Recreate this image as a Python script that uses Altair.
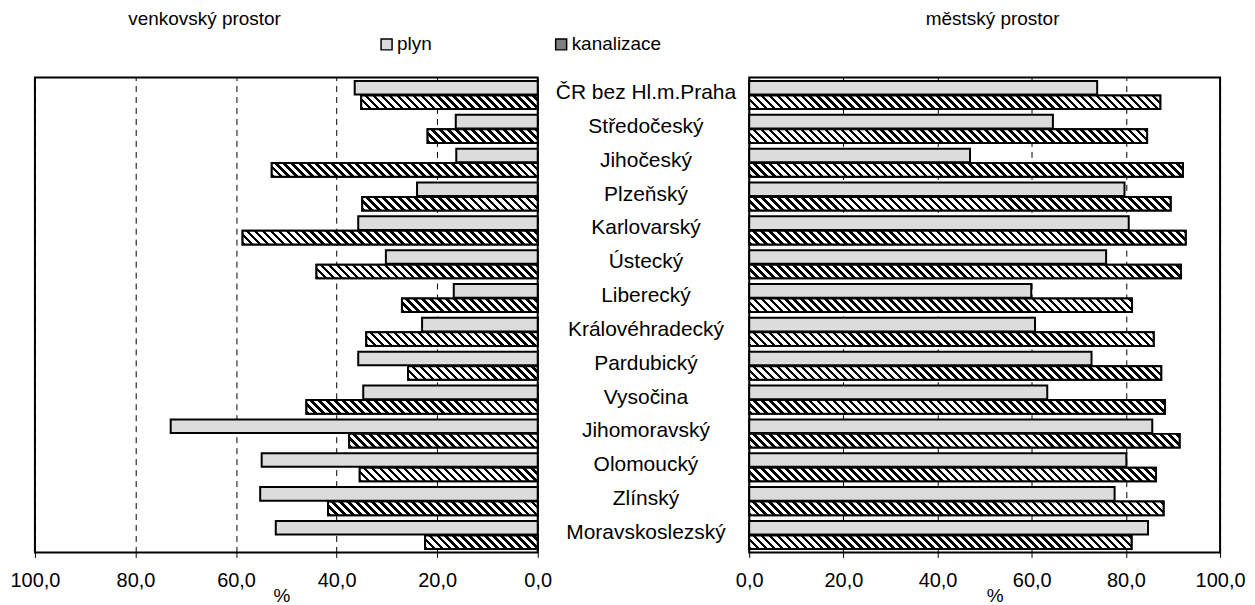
import math
import altair as alt

# ---------------- data ----------------
categories = [
    "ČR bez Hl.m.Praha", "Středočeský", "Jihočeský", "Plzeňský", "Karlovarský",
    "Ústecký", "Liberecký", "Královéhradecký", "Pardubický", "Vysočina",
    "Jihomoravský", "Olomoucký", "Zlínský", "Moravskoslezský",
]
series = ["plyn", "kanalizace"]

plyn_venkov = [36.4, 16.3, 16.2, 24.0, 35.7, 30.2, 16.7, 23.0, 35.7, 34.7, 73.0, 54.9, 55.2, 52.1]
kanal_venkov = [35.1, 21.9, 52.9, 34.9, 58.7, 44.0, 27.0, 34.1, 25.8, 46.0, 37.5, 35.4, 41.7, 22.4]
plyn_mesto = [73.9, 64.5, 46.9, 79.7, 80.6, 75.8, 59.9, 60.7, 72.7, 63.3, 85.6, 80.1, 77.6, 84.7]
kanal_mesto = [87.3, 84.5, 92.1, 89.5, 92.7, 91.7, 81.3, 85.9, 87.5, 88.3, 91.4, 86.4, 88.0, 81.2]

tick_values = [0, 20, 40, 60, 80, 100]

# ---------------- layout / style ----------------
FONT = "Liberation Sans"
FS = 19          # titles, legend, axis title
FS_TICK = 20     # tick labels
FS_CAT = 21      # category labels
LEFT_W = 504
RIGHT_W = 472
PLOT_H = 476
GAP = 212
PAD_IN = 0.17
PAD_OUT = 0.1
SUB_PAD = 0.06
LIGHT = "#dcdcdc"
MID = "#7f7f7f"

step = PLOT_H / (len(categories) - PAD_IN + 2 * PAD_OUT)
BAR_H = step * (1 - PAD_IN) / (2 - SUB_PAD) * (1 - SUB_PAD)


def hatch(width_px, height_px, period=8.0, black=0.45):
    """Diagonal '\\' hatch as a linear gradient in bounding-box units."""
    W = max(width_px, 1.0)
    H = height_px
    r = H / W
    k = (1 + r) / (1 + r * r)
    span = W + H
    stops = []
    n = int(math.ceil(span / period)) + 1
    for i in range(n):
        a = i * period / span
        b = (i + black) * period / span
        c = (i + 1) * period / span
        if a >= 1:
            break
        stops.append({"offset": round(a, 5), "color": "#000000"})
        stops.append({"offset": round(min(b, 1), 5), "color": "#000000"})
        if b < 1:
            stops.append({"offset": round(b, 5), "color": "#ffffff"})
            stops.append({"offset": round(min(c, 1), 5), "color": "#ffffff"})
    return {"gradient": "linear", "x1": 0, "y1": 1, "x2": round(k, 5),
            "y2": round(1 - k * r, 5), "stops": stops}


def table(plyn, kanal, px_per_unit):
    out = []
    for c, p, k in zip(categories, plyn, kanal):
        out.append({"kraj": c, "rada": "plyn", "hodnota": p})
        out.append({"kraj": c, "rada": "kanalizace", "hodnota": k,
                    "vzor": hatch(k * px_per_unit, BAR_H)})
    return out


label_expr = "replace(format(datum.value, '.1f'), '.', ',')"


def panel(values, reverse, width, title_text, title_dx, title_x, y_axis, legend):
    data = alt.Data(values=values)
    x_axis = alt.Axis(
        values=tick_values, labelExpr=label_expr, grid=True, gridDash=[6, 5],
        gridColor="black", gridWidth=1, tickColor="black", tickSize=5, tickWidth=1,
        domain=False, labelFontSize=FS_TICK, labelColor="black", labelPadding=13,
        labelFont=FONT, title="%", titleFontSize=FS, titleFont=FONT,
        titleFontWeight="normal", titleColor="black", titlePadding=-4,
        titleX=title_x, labelFlush=False, labelOverlap=False,
    )
    base = alt.Chart(data).encode(
        y=alt.Y("kraj:N", sort=categories,
                scale=alt.Scale(domain=categories, paddingInner=PAD_IN, paddingOuter=PAD_OUT),
                axis=y_axis),
        yOffset=alt.YOffset("rada:N", sort=series,
                            scale=alt.Scale(domain=series, paddingInner=SUB_PAD)),
        x=alt.X("hodnota:Q", scale=alt.Scale(domain=[0, 100], reverse=reverse, nice=False),
                axis=x_axis),
    )
    bars = base.mark_bar(stroke="black", strokeWidth=2).encode(
        fill=alt.Fill("rada:N", sort=series,
                      scale=alt.Scale(domain=series, range=[LIGHT, MID]),
                      legend=legend),
    )
    hatched = base.transform_filter(alt.datum.rada == "kanalizace").mark_bar(
        stroke="black", strokeWidth=2
    ).encode(fill=alt.Fill("vzor:N", scale=None, legend=None))
    return alt.layer(bars, hatched).properties(
        width=width, height=PLOT_H,
        view=alt.ViewBackground(stroke="black", strokeWidth=2, fill="white"),
        title=alt.Title(title_text, fontSize=FS, font=FONT, fontWeight="normal",
                        color="black", anchor="middle", dx=title_dx, offset=34,
                        baseline="alphabetic"),
    )


legend = alt.Legend(
    title=None, orient="none", legendX=343, legendY=-43, direction="horizontal",
    symbolType="square", symbolSize=121, symbolStrokeColor="black",
    symbolStrokeWidth=1.5, symbolOpacity=1, labelFontSize=FS, labelFont=FONT,
    labelColor="black", labelOffset=1, columnPadding=120,
)

left = panel(table(plyn_venkov, kanal_venkov, LEFT_W / 100), True, LEFT_W,
             "venkovský prostor", -82, 247, None, legend)

right_y_axis = alt.Axis(
    title=None, orient="left", ticks=False, tickSize=0, domain=False,
    labelAlign="center", labelBaseline="middle", labelPadding=104,
    labelFontSize=FS_CAT, labelFont=FONT, labelColor="black", labelLimit=0,
    labelOffset=-2,
)
right = panel(table(plyn_mesto, kanal_mesto, RIGHT_W / 100), False, RIGHT_W,
              "městský prostor", 8, 246, right_y_axis, legend)

chart = alt.hconcat(left, right, spacing=GAP, bounds="flush").resolve_scale(
    y="shared", fill="shared"
).properties(
    padding={"left": 0, "right": 0, "top": 0, "bottom": 0},
).configure(
    font=FONT, background="white",
).configure_view(
    stroke="black", strokeWidth=2, fill="white",
)

chart.save("out.html", embed_options={"renderer": "svg", "actions": False})
